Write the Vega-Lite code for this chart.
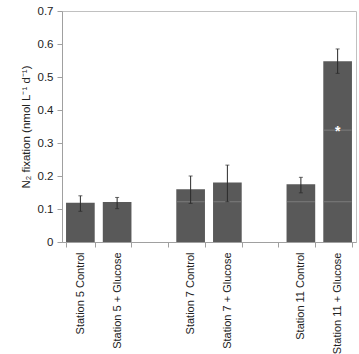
{
  "$schema": "https://vega.github.io/schema/vega-lite/v6.json",
  "autosize": {"type": "none"},
  "padding": {"left": 62, "top": 11, "right": 3, "bottom": 112},
  "width": 294,
  "height": 231,
  "background": "white",
  "config": {
    "font": "Liberation Sans",
    "view": {"stroke": "#c0c0c0", "strokeWidth": 1},
    "axis": {"labelFont": "Liberation Sans", "titleFont": "Liberation Sans", "labelColor": "#222", "titleColor": "#222", "domainColor": "#a0a0a0", "tickColor": "#a0a0a0"},
    "axisY": {"titleFontSize": 11.5, "titleFontWeight": "normal", "labelFontSize": 11.5, "grid": false, "format": "~g", "tickSize": 5, "labelPadding": 4, "titlePadding": 6, "labelOverlap": false, "labelFlush": false}
  },
  "datasets": {
    "bars": [
      {"cat": "Station 5 Control", "value": 0.119, "lo": 0.093, "hi": 0.140},
      {"cat": "Station 5 + Glucose", "value": 0.121, "lo": 0.101, "hi": 0.135},
      {"cat": "_1", "value": null, "lo": null, "hi": null},
      {"cat": "Station 7 Control", "value": 0.160, "lo": 0.117, "hi": 0.200},
      {"cat": "Station 7 + Glucose", "value": 0.180, "lo": 0.122, "hi": 0.233},
      {"cat": "_2", "value": null, "lo": null, "hi": null},
      {"cat": "Station 11 Control", "value": 0.175, "lo": 0.149, "hi": 0.196},
      {"cat": "Station 11 + Glucose", "value": 0.548, "lo": 0.511, "hi": 0.585}
    ],
    "lines": [
      {"cat": "Station 7 Control", "y": 0.122},
      {"cat": "Station 7 + Glucose", "y": 0.122},
      {"cat": "Station 11 Control", "y": 0.122},
      {"cat": "Station 11 + Glucose", "y": 0.122},
      {"cat": "Station 11 + Glucose", "y": 0.339}
    ],
    "stars": [
      {"cat": "Station 11 + Glucose", "y": 0.339, "label": "*"}
    ]
  },
  "encoding": {
    "x": {
      "field": "cat", "type": "nominal", "sort": null,
      "scale": {"domain": ["Station 5 Control", "Station 5 + Glucose", "_1", "Station 7 Control", "Station 7 + Glucose", "_2", "Station 11 Control", "Station 11 + Glucose"], "paddingInner": 0.22, "paddingOuter": 0.11},
      "axis": {"title": null, "labelAngle": -90, "labelFontSize": 11, "tickBand": "extent", "tickSize": 5, "labelPadding": 5, "labelOverlap": false, "labelExpr": "indexof(datum.label, '_') == 0 ? '' : datum.label"}
    }
  },
  "layer": [
    {
      "data": {"name": "bars"},
      "mark": {"type": "bar", "color": "#595959"},
      "encoding": {
        "y": {"field": "value", "type": "quantitative", "scale": {"domain": [0, 0.7]}, "axis": {"title": "N₂ fixation (nmol L⁻¹ d⁻¹)", "values": [0, 0.1, 0.2, 0.3, 0.4, 0.5, 0.6, 0.7]}}
      }
    },
    {
      "data": {"name": "lines"},
      "mark": {"type": "tick", "color": "#8a8a8a", "size": 28, "thickness": 1},
      "encoding": {"y": {"field": "y", "type": "quantitative", "axis": {"title": "N₂ fixation (nmol L⁻¹ d⁻¹)", "values": [0, 0.1, 0.2, 0.3, 0.4, 0.5, 0.6, 0.7]}}}
    },
    {
      "data": {"name": "bars"},
      "mark": {"type": "rule", "color": "#2a2a2a", "strokeWidth": 1},
      "encoding": {"y": {"field": "lo", "type": "quantitative", "axis": {"title": "N₂ fixation (nmol L⁻¹ d⁻¹)", "values": [0, 0.1, 0.2, 0.3, 0.4, 0.5, 0.6, 0.7]}}, "y2": {"field": "hi"}}
    },
    {
      "data": {"name": "bars"},
      "mark": {"type": "tick", "color": "#2a2a2a", "size": 4, "thickness": 1},
      "encoding": {"y": {"field": "lo", "type": "quantitative", "axis": {"title": "N₂ fixation (nmol L⁻¹ d⁻¹)", "values": [0, 0.1, 0.2, 0.3, 0.4, 0.5, 0.6, 0.7]}}}
    },
    {
      "data": {"name": "bars"},
      "mark": {"type": "tick", "color": "#2a2a2a", "size": 4, "thickness": 1},
      "encoding": {"y": {"field": "hi", "type": "quantitative", "axis": {"title": "N₂ fixation (nmol L⁻¹ d⁻¹)", "values": [0, 0.1, 0.2, 0.3, 0.4, 0.5, 0.6, 0.7]}}}
    },
    {
      "data": {"name": "stars"},
      "mark": {"type": "text", "color": "white", "fontSize": 14, "fontWeight": "bold", "baseline": "middle", "dy": 2},
      "encoding": {"y": {"field": "y", "type": "quantitative", "axis": {"title": "N₂ fixation (nmol L⁻¹ d⁻¹)", "values": [0, 0.1, 0.2, 0.3, 0.4, 0.5, 0.6, 0.7]}}, "text": {"field": "label"}}
    }
  ]
}
